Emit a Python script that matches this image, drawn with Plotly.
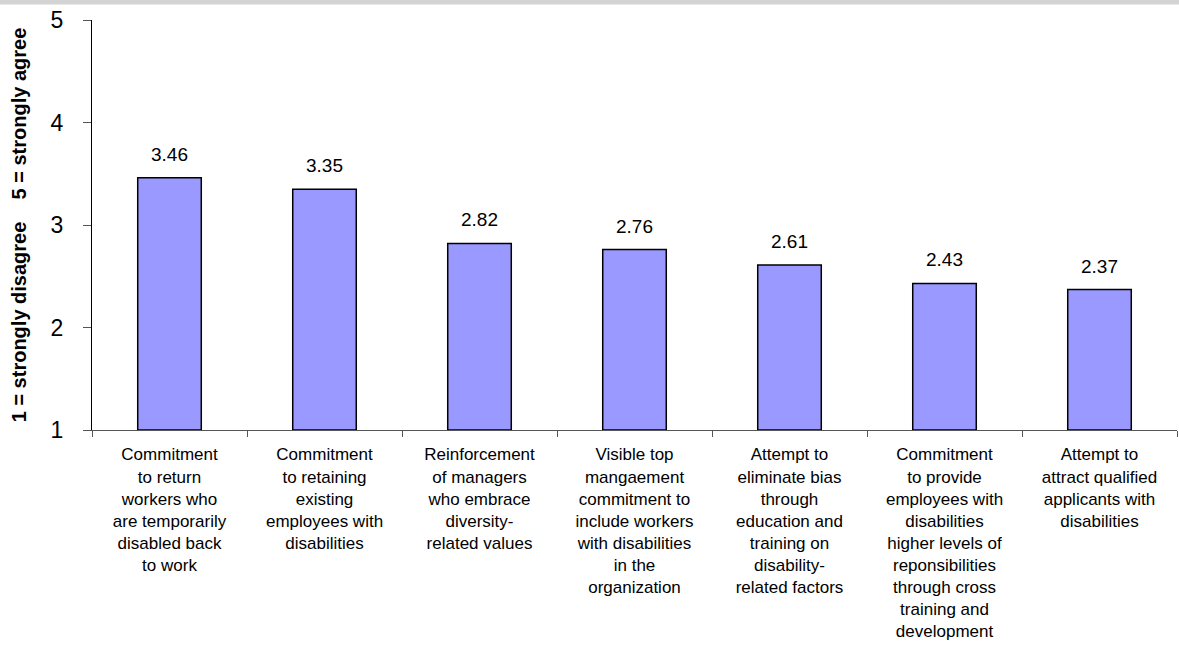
import plotly.graph_objects as go

# Survey items (x categories) and mean agreement scores
categories = [
    "Commitment<br>to return<br>workers who<br>are temporarily<br>disabled back<br>to work",
    "Commitment<br>to retaining<br>existing<br>employees with<br>disabilities",
    "Reinforcement<br>of managers<br>who embrace<br>diversity-<br>related values",
    "Visible top<br>mangaement<br>commitment to<br>include workers<br>with disabilities<br>in the<br>organization",
    "Attempt to<br>eliminate bias<br>through<br>education and<br>training on<br>disability-<br>related factors",
    "Commitment<br>to provide<br>employees with<br>disabilities<br>higher levels of<br>reponsibilities<br>through cross<br>training and<br>development",
    "Attempt to<br>attract qualified<br>applicants with<br>disabilities",
]
scores = [3.46, 3.35, 2.82, 2.76, 2.61, 2.43, 2.37]
y_ticks = [1, 2, 3, 4, 5]
y_title = "1 = strongly disagree&nbsp;&nbsp;&nbsp;&nbsp;5 = strongly agree"

FONT = "Liberation Sans, Arial, sans-serif"
FLOOR = 1  # bottom of the rating scale

fig = go.Figure(
    go.Bar(
        x=categories,
        y=[s - FLOOR for s in scores],
        base=FLOOR,
        marker=dict(color="#9999FF", line=dict(color="#000000", width=1.5)),
        hoverinfo="skip",
    )
)

for cat, s in zip(categories, scores):
    fig.add_annotation(
        x=cat, y=s, text=f"{s:.2f}", showarrow=False,
        yanchor="bottom", yshift=11,
        font=dict(family=FONT, size=19, color="#000000"),
    )

# thin grey band along the top edge of the page
fig.add_shape(
    type="rect", xref="paper", yref="paper",
    x0=-0.1, x1=1.01, y0=1.038, y1=1.05,
    fillcolor="#d3d3d3", line=dict(width=0), layer="above",
)

fig.update_layout(
    width=1179, height=650,
    margin=dict(l=92, r=2, t=20, b=220),
    paper_bgcolor="#ffffff", plot_bgcolor="#ffffff",
    bargap=0.59,
    showlegend=False,
    font=dict(family=FONT, color="#000000"),
)
fig.update_xaxes(
    showline=True, linecolor="#555555", linewidth=1,
    ticks="outside", ticklen=6, tickcolor="#555555",
    tickson="boundaries", ticklabelstandoff=9,
    tickfont=dict(family=FONT, size=17, color="#000000"),
    showgrid=False, zeroline=False, fixedrange=True,
)
fig.update_yaxes(
    range=[1, 5], tickvals=y_ticks,
    showline=True, linecolor="#000000", linewidth=1,
    ticks="outside", ticklen=8, tickcolor="#555555",
    ticklabelstandoff=15,
    tickfont=dict(family=FONT, size=23, color="#000000"),
    showgrid=False, zeroline=False, fixedrange=True,
    title=dict(text=f"<b>{y_title}</b>", font=dict(family=FONT, size=20), standoff=18),
)

fig.write_html("out.html")
